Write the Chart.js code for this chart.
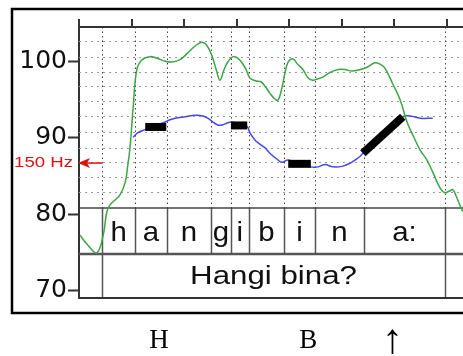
<!DOCTYPE html>
<html>
<head>
<meta charset="utf-8">
<script src="https://cdn.jsdelivr.net/npm/chart.js@4.4.1/dist/chart.umd.min.js"></script>
<style>
  html, body { margin: 0; padding: 0; background: #fff; overflow: hidden; }
  canvas { display: block; }
</style>
</head>
<body>
<canvas id="praatChart" width="463" height="356"></canvas>
<script>
// Intensity contour (green), time in s, level in dB
const intensityTimes = [0.002, 0.017, 0.034, 0.046, 0.053, 0.059, 0.068, 0.078, 0.088, 0.093, 0.097, 0.103,
    0.110, 0.120, 0.135, 0.148, 0.164, 0.177, 0.192, 0.207, 0.221, 0.234, 0.243, 0.253, 0.261, 0.268,
    0.276, 0.283, 0.293, 0.302, 0.310, 0.318, 0.325, 0.337, 0.346, 0.354, 0.363, 0.373, 0.379, 0.386,
    0.392, 0.398, 0.407, 0.416, 0.426, 0.436, 0.445, 0.455, 0.464, 0.477, 0.493, 0.506, 0.519, 0.535,
    0.548, 0.563, 0.573, 0.582, 0.597, 0.611, 0.624, 0.635, 0.649, 0.662, 0.673, 0.687, 0.696, 0.704,
    0.711, 0.719, 0.725, 0.730];
const intensityDb = [77.2, 75.9, 74.9, 77.2, 80.3, 81.2, 81.8, 82.5, 84.2, 86.5, 88.7, 94.0,
    99.0, 100.3, 100.7, 100.5, 100.1, 100.0, 100.3, 101.2, 102.1, 102.6, 102.2, 100.8, 99.0, 97.6,
    99.0, 100.0, 100.7, 100.5, 99.9, 99.0, 97.9, 97.5, 97.4, 96.8, 95.9, 95.1, 95.0, 96.6,
    98.6, 100.0, 100.4, 99.7, 99.0, 97.9, 97.6, 97.8, 98.0, 98.6, 99.0, 99.0, 98.8, 99.0,
    99.3, 99.9, 99.7, 99.2, 97.1, 95.0, 92.1, 90.4, 88.4, 87.1, 85.5, 83.4, 82.8, 83.0,
    83.2, 82.1, 81.1, 80.3];

// Pitch contour (blue), drawn on the same display scale
const pitchTimes = [0.103, 0.112, 0.126, 0.135, 0.145, 0.164, 0.173, 0.183, 0.202, 0.221, 0.236, 0.245,
    0.255, 0.264, 0.272, 0.283, 0.291, 0.306, 0.320, 0.325, 0.335, 0.344, 0.354, 0.363, 0.377, 0.386,
    0.398, 0.420, 0.441, 0.455, 0.468, 0.483, 0.502, 0.516, 0.525, 0.535, 0.540, 0.578, 0.616, 0.630,
    0.649, 0.673];
const pitchValues = [90.1, 90.7, 91.1, 91.3, 91.6, 92.1, 92.4, 92.6, 92.8, 93.0, 92.9, 92.6,
    92.1, 91.7, 91.7, 92.0, 92.1, 91.8, 91.5, 90.7, 89.7, 89.2, 88.7, 88.0, 87.2, 86.8,
    87.1, 86.6, 86.2, 86.2, 86.5, 86.2, 86.3, 86.7, 87.1, 87.6, 88.0, 90.4, 92.8, 92.9,
    92.6, 92.6];

// Stylized pitch targets (black bars)
const targetStartTimes = [0.126, 0.289, 0.398, 0.540];
const targetEndTimes = [0.166, 0.320, 0.441, 0.616];
const targetStartValues = [91.45, 91.65, 86.6, 88.0];
const targetEndValues = [91.45, 91.65, 86.6, 92.8];

// TextGrid tiers
const phoneLabels = ['h', 'a', 'n', 'g', 'i', 'b', 'i', 'n', 'a:'];
const phoneBounds = [0.044, 0.107, 0.167, 0.251, 0.289, 0.323, 0.390, 0.449, 0.542, 0.696];
const sentenceLabel = 'Hangi bina?';

// Axes and marks
const yTickValues = [70, 80, 90, 100];
const topTickTimes = [0, 0.1, 0.2, 0.3, 0.4, 0.5, 0.6, 0.7];
const gridLevels = [102.8, 100.6, 98.7, 96.8, 94.9, 92.9, 90.8, 88.7, 86.8, 84.9, 82.9];
const pitchRefLabel = '150 Hz';
const pitchRefValue = 86.7;
const toneLabels = ['H', 'B', '\u2191'];
const toneTimes = [0.152, 0.436, 0.596];

function toPoints(xs, ys) {
    return xs.map((x, i) => ({ x: x, y: ys[i] }));
}

function wideText(ctx, text, x, y, align, sx) {
    ctx.save();
    ctx.translate(x, y);
    ctx.scale(sx, 1);
    ctx.textAlign = align;
    ctx.fillText(text, 0, 0);
    ctx.restore();
}

const targetSets = targetStartTimes.map((t, i) => ({
    data: [{ x: t, y: targetStartValues[i] }, { x: targetEndTimes[i], y: targetEndValues[i] }],
    borderColor: '#000',
    borderWidth: 8,
    borderCapStyle: 'butt',
    pointRadius: 0,
    tension: 0
}));

const praatDecor = {
    id: 'praatDecor',
    beforeDraw(chart) {
        const ctx = chart.ctx;
        ctx.save();
        ctx.fillStyle = '#fff';
        ctx.fillRect(0, 0, chart.width, chart.height);
        // outer frame
        ctx.strokeStyle = '#000';
        ctx.lineWidth = 2.5;
        ctx.strokeRect(12, 9, chart.width + 20, 304);
        ctx.restore();
    },
    beforeDatasetsDraw(chart) {
        const ctx = chart.ctx;
        const area = chart.chartArea;
        const xs = chart.scales.x;
        const ys = chart.scales.y;
        const tierTop = area.bottom - 90;
        const tierMid = area.bottom - 44;
        ctx.save();

        // horizontal dotted grid
        ctx.strokeStyle = '#999';
        ctx.lineWidth = 1;
        ctx.setLineDash([2, 4]);
        gridLevels.forEach(v => {
            const y = Math.round(ys.getPixelForValue(v)) + 0.5;
            ctx.beginPath();
            ctx.moveTo(area.left, y);
            ctx.lineTo(area.right, y);
            ctx.stroke();
        });

        // vertical dotted lines at segment boundaries
        ctx.strokeStyle = '#444';
        ctx.setLineDash([1.5, 3]);
        phoneBounds.forEach(t => {
            const x = Math.round(xs.getPixelForValue(t)) + 0.5;
            ctx.beginPath();
            ctx.moveTo(x, area.top);
            ctx.lineTo(x, tierTop);
            ctx.stroke();
        });
        ctx.setLineDash([]);

        // tiers
        ctx.fillStyle = '#fff';
        ctx.fillRect(area.left + 1, tierTop, area.right - area.left, area.bottom - tierTop);
        ctx.strokeStyle = '#555';
        ctx.lineWidth = 1.5;
        phoneBounds.forEach((t, i) => {
            const x = Math.round(xs.getPixelForValue(t)) + 0.5;
            const end = (i === 0 || i === phoneBounds.length - 1) ? area.bottom : tierMid;
            ctx.beginPath();
            ctx.moveTo(x, tierTop);
            ctx.lineTo(x, end);
            ctx.stroke();
        });
        ctx.strokeStyle = '#444';
        ctx.beginPath();
        ctx.moveTo(area.left, tierTop);
        ctx.lineTo(area.right, tierTop);
        ctx.stroke();
        ctx.lineWidth = 2.5;
        ctx.strokeStyle = '#555';
        ctx.beginPath();
        ctx.moveTo(area.left, tierMid);
        ctx.lineTo(area.right, tierMid);
        ctx.stroke();
        ctx.lineWidth = 2;
        ctx.strokeStyle = '#333';
        ctx.beginPath();
        ctx.moveTo(area.left, area.bottom);
        ctx.lineTo(area.right, area.bottom);
        ctx.stroke();

        ctx.fillStyle = '#111';
        ctx.textBaseline = 'alphabetic';
        ctx.font = '28px "Liberation Sans", Arial, sans-serif';
        phoneLabels.forEach((lab, i) => {
            const xc = (xs.getPixelForValue(phoneBounds[i]) + xs.getPixelForValue(phoneBounds[i + 1])) / 2;
            wideText(ctx, lab, xc, tierTop + 33, 'center', 1.05);
        });
        ctx.font = '25px "Liberation Sans", Arial, sans-serif';
        const sc = (xs.getPixelForValue(phoneBounds[0]) + xs.getPixelForValue(phoneBounds[phoneBounds.length - 1])) / 2;
        wideText(ctx, sentenceLabel, sc, area.bottom - 14, 'center', 1.25);

        // top axis with upward ticks
        ctx.strokeStyle = '#333';
        ctx.lineWidth = 2;
        ctx.beginPath();
        ctx.moveTo(area.left, area.top);
        ctx.lineTo(area.right, area.top);
        ctx.stroke();
        topTickTimes.forEach(t => {
            const x = Math.round(xs.getPixelForValue(t));
            ctx.beginPath();
            ctx.moveTo(x, area.top);
            ctx.lineTo(x, area.top - 8);
            ctx.stroke();
        });

        // red pitch reference marker
        const ry = ys.getPixelForValue(pitchRefValue);
        ctx.strokeStyle = '#e01010';
        ctx.fillStyle = '#e01010';
        ctx.lineWidth = 1.5;
        ctx.beginPath();
        ctx.moveTo(area.left + 23, ry);
        ctx.lineTo(area.left + 6, ry);
        ctx.stroke();
        ctx.beginPath();
        ctx.moveTo(area.left - 1, ry);
        ctx.lineTo(area.left + 11, ry - 5);
        ctx.lineTo(area.left + 8, ry);
        ctx.lineTo(area.left + 11, ry + 5);
        ctx.closePath();
        ctx.fill();
        ctx.font = '15px "Liberation Sans", Arial, sans-serif';
        ctx.textBaseline = 'middle';
        wideText(ctx, pitchRefLabel, area.left - 6, ry, 'right', 1.24);
        ctx.restore();
    },
    afterDraw(chart) {
        const ctx = chart.ctx;
        const xs = chart.scales.x;
        ctx.save();
        ctx.fillStyle = '#000';
        ctx.textAlign = 'center';
        ctx.textBaseline = 'alphabetic';
        toneLabels.forEach((lab, i) => {
            const isArrow = lab === '\u2191';
            ctx.font = (isArrow ? '42px' : '27px') + ' "Liberation Serif", "DejaVu Serif", serif';
            ctx.fillText(lab, xs.getPixelForValue(toneTimes[i]), isArrow ? 353 : 348);
        });
        ctx.restore();
    }
};

new Chart(document.getElementById('praatChart'), {
    type: 'line',
    data: {
        datasets: [
            ...targetSets,
            {
                data: toPoints(intensityTimes, intensityDb),
                borderColor: 'rgb(60, 165, 70)',
                borderWidth: 1.5,
                pointRadius: 0,
                tension: 0.4
            },
            {
                data: toPoints(pitchTimes, pitchValues),
                borderColor: 'rgb(70, 70, 235)',
                borderWidth: 1.5,
                pointRadius: 0,
                tension: 0.4
            }
        ]
    },
    options: {
        responsive: false,
        animation: false,
        layout: { padding: { left: 0, right: 0, top: 27, bottom: 58 } },
        plugins: {
            legend: { display: false },
            tooltip: { enabled: false }
        },
        scales: {
            x: {
                type: 'linear',
                display: false,
                min: 0,
                max: 0.7305
            },
            y: {
                type: 'linear',
                min: 68.95,
                max: 104.6,
                afterFit(scale) { scale.width = 79; },
                afterBuildTicks(scale) { scale.ticks = yTickValues.map(v => ({ value: v })); },
                border: { display: true, color: '#333', width: 2 },
                grid: {
                    drawOnChartArea: false,
                    drawTicks: true,
                    tickLength: 11,
                    tickWidth: 2,
                    tickColor: '#333'
                },
                ticks: {
                    color: '#111',
                    padding: 1,
                    autoSkip: false,
                    font: { family: '"DejaVu Sans", sans-serif', size: 25 }
                }
            }
        }
    },
    plugins: [praatDecor]
});
</script>
</body>
</html>
